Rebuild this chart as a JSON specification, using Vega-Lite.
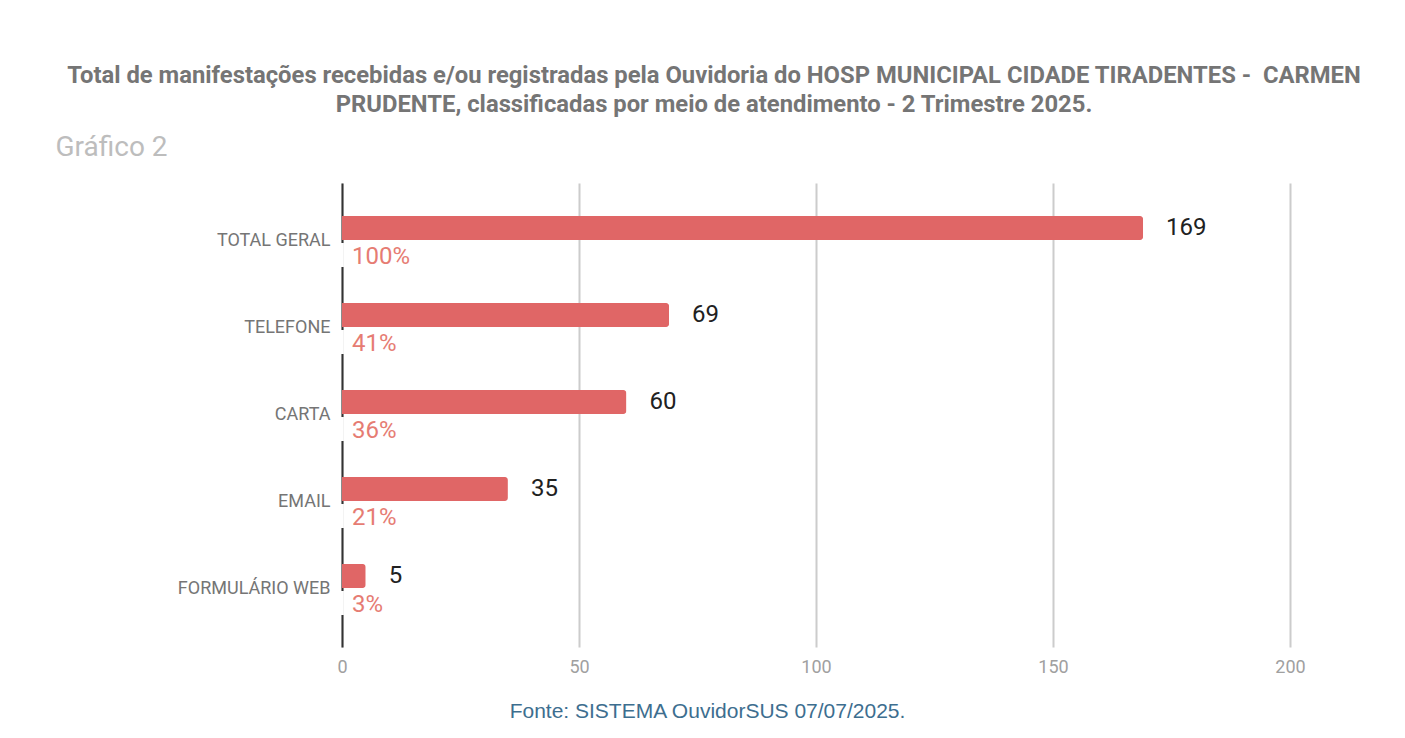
{
  "$schema": "https://vega.github.io/schema/vega-lite/v6.json",
  "autosize": {"type": "none"},
  "width": 948,
  "height": 464,
  "padding": {"left": 342, "top": 183, "right": 115, "bottom": 91},
  "background": "white",
  "config": {"view": {"stroke": null}},
  "title": {
    "text": ["Total de manifestações recebidas e/ou registradas pela Ouvidoria do HOSP MUNICIPAL CIDADE TIRADENTES -\u00a0 CARMEN", "PRUDENTE, classificadas por meio de atendimento - 2 Trimestre 2025."],
    "anchor": "middle",
    "frame": "group",
    "dx": -102,
    "offset": 16,
    "font": "Roboto",
    "fontSize": 23.8,
    "fontWeight": "bold",
    "color": "#757575",
    "lineHeight": 29
  },
  "data": {
    "values": [
      {"meio": "TOTAL GERAL", "total": 169, "pct": "100%"},
      {"meio": "TELEFONE", "total": 69, "pct": "41%"},
      {"meio": "CARTA", "total": 60, "pct": "36%"},
      {"meio": "EMAIL", "total": 35, "pct": "21%"},
      {"meio": "FORMULÁRIO WEB", "total": 5, "pct": "3%"}
    ]
  },
  "encoding": {
    "y": {
      "field": "meio",
      "type": "nominal",
      "sort": null,
      "scale": {"paddingInner": 0, "paddingOuter": 0.1667},
      "axis": {
        "title": "Gráfico 2",
        "titleAngle": 0,
        "titleAlign": "left",
        "titleBaseline": "middle",
        "titleX": -287,
        "titleY": -36,
        "titleFont": "Roboto",
        "titleFontSize": 28,
        "titleFontWeight": "normal",
        "titleColor": "#bdbdbd",
        "domain": true,
        "domainColor": "#333333",
        "domainWidth": 2,
        "ticks": false,
        "labelPadding": 12,
        "labelFont": "Roboto",
        "labelFontSize": 18,
        "labelColor": "#757575",
        "labelLimit": 300
      }
    }
  },
  "layer": [
    {
      "mark": {"type": "bar", "color": "#e06666", "size": 24, "yOffset": -13, "cornerRadiusEnd": 3},
      "encoding": {
        "x": {
          "field": "total",
          "type": "quantitative",
          "scale": {"domain": [0, 200], "nice": false},
          "axis": {
            "values": [0, 50, 100, 150, 200],
            "title": "Fonte: SISTEMA OuvidorSUS 07/07/2025.",
            "titleX": 365,
            "titleY": 64,
            "titleAlign": "center",
            "titleBaseline": "middle",
            "titleFont": "Liberation Sans",
            "titleFontSize": 21,
            "titleFontWeight": "normal",
            "titleColor": "#3d6e8f",
            "domain": false,
            "ticks": false,
            "grid": true,
            "gridColor": "#cccccc",
            "gridWidth": 2,
            "labelFlush": false,
            "labelPadding": 11,
            "labelFont": "Roboto",
            "labelFontSize": 18,
            "labelColor": "#a0a0a0"
          }
        }
      }
    },
    {
      "mark": {"type": "bar", "color": "white", "size": 24, "yOffset": 14},
      "encoding": {
        "x": {"datum": -0.4, "type": "quantitative"},
        "x2": {"datum": 0.4}
      }
    },
    {
      "mark": {"type": "text", "align": "left", "baseline": "middle", "dx": 23, "yOffset": -13, "font": "Roboto", "fontSize": 24, "color": "#212121"},
      "encoding": {
        "x": {"field": "total", "type": "quantitative"},
        "text": {"field": "total", "type": "quantitative"}
      }
    },
    {
      "mark": {"type": "text", "align": "left", "baseline": "middle", "dx": 10, "yOffset": 16, "font": "Roboto", "fontSize": 24, "color": "#e67c73"},
      "encoding": {
        "x": {"datum": 0, "type": "quantitative"},
        "text": {"field": "pct", "type": "nominal"}
      }
    }
  ]
}
